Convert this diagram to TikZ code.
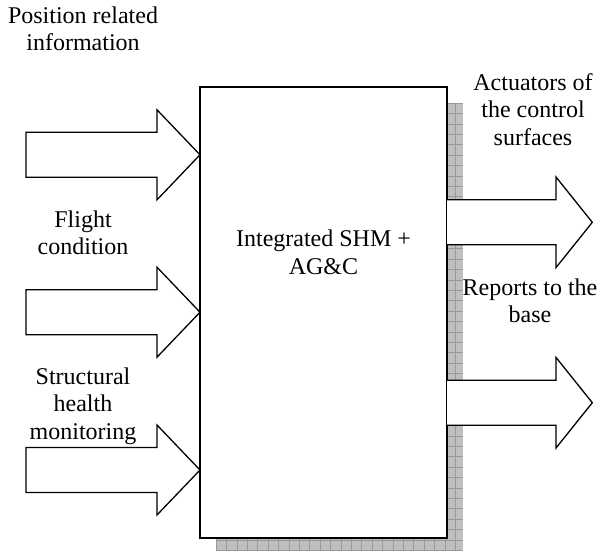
\documentclass[tikz,border=0pt]{standalone}
\usepackage{fontspec}
\setmainfont{Liberation Serif}
\begin{document}
\begin{tikzpicture}[x=1pt,y=-1pt,
  every node/.style={inner sep=0pt, outer sep=0pt},
  caption/.style={align=center, anchor=north,
    font=\fontsize{24}{27.5}\selectfont},
  blockarrow/.style={draw=black, line width=1.3pt, fill=white, line join=miter},
  sysbox/.style={draw=black, line width=1.7pt, fill=white,
    minimum width=247, minimum height=451},
  shadowfill/.style={fill=gray!50},
  shadowgrid/.style={draw=gray!80, line width=0.5pt}]
\useasboundingbox (0,0) rectangle (604,550);

% drop shadow of the main block, with its fine grid
\fill[shadowfill] (216,103) rectangle (462.7,550);
\begin{scope}
  \clip (216,103) rectangle (462.7,550);
  \foreach \i in {0,...,24} {
    \draw[shadowgrid] (216+10.4*\i,103) -- (216+10.4*\i,550);
  }
  \foreach \j in {0,...,44} {
    \draw[shadowgrid] (216,103+10.4*\j) -- (462.7,103+10.4*\j);
  }
\end{scope}

% main block
\node[sysbox] (sys) at (323.5,312.2) {};
\node[caption] (systext) at (323.5,227.5) {Integrated SHM +\strut\\AG\&C\strut};

% tips of the incoming arrows, on the left edge of the block
\coordinate (in1) at (sys.west |- 0,154.8);
\coordinate (in2) at (sys.west |- 0,312.2);
\coordinate (in3) at (sys.west |- 0,470);
% roots of the outgoing arrows, on the right edge of the block
\coordinate (out1) at (sys.east |- 0,222.3);
\coordinate (out2) at (sys.east |- 0,402.7);

% incoming block arrows
\foreach \c in {in1,in2,in3} {
  \draw[blockarrow] (\c) -- ++(-43,-45) -- ++(0,22.5) -- ++(-131,0)
    -- ++(0,45) -- ++(131,0) -- ++(0,22.5) -- cycle;
}
% outgoing block arrows
\foreach \c in {out1,out2} {
  \draw[blockarrow] (\c) ++(0,-22.5) -- ++(109,0) -- ++(0,-22.8)
    -- ++(36.3,45.3) -- ++(-36.3,45.3) -- ++(0,-22.8) -- ++(-109,0);
}

% labels
\node[caption] (lpos) at (83,3.75) {Position related\strut\\information\strut};
\node[caption] (lflight) at (83,207.75) {Flight\strut\\condition\strut};
\node[caption] (lstruct) at (83,364.75) {Structural\strut\\health\strut\\monitoring\strut};
\node[caption] (lact) at (533,70.75) {Actuators of\strut\\the control\strut\\surfaces\strut};
\node[caption] (lrep) at (530,275.75) {Reports to the\strut\\base\strut};
\end{tikzpicture}
\end{document}
